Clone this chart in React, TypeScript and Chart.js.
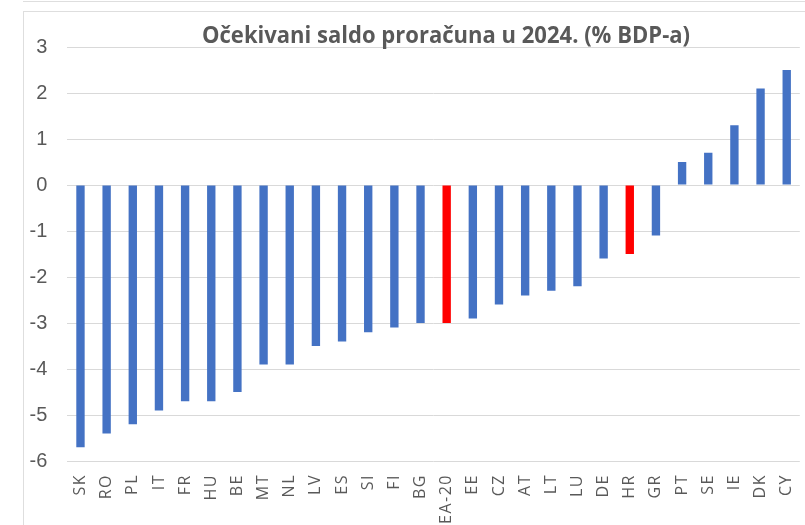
import React, { useEffect, useRef } from "react";
import { Chart, registerables } from "chart.js";

Chart.register(...registerables);

const TITLE = "Očekivani saldo proračuna u 2024. (% BDP-a)";

const countries = [
  "SK", "RO", "PL", "IT", "FR", "HU", "BE", "MT", "NL", "LV", "ES", "SI", "FI", "BG",
  "EA-20", "EE", "CZ", "AT", "LT", "LU", "DE", "HR", "GR", "PT", "SE", "IE", "DK", "CY",
];

const balance2024 = [
  -5.7, -5.4, -5.2, -4.9, -4.7, -4.7, -4.5, -3.9, -3.9, -3.5, -3.4, -3.2, -3.1, -3.0,
  -3.0, -2.9, -2.6, -2.4, -2.3, -2.2, -1.6, -1.5, -1.1, 0.5, 0.7, 1.3, 2.1, 2.5,
];

const highlighted = ["EA-20", "HR"];

const yMin = -6;
const yMax = 3;
const yStep = 1;

const BLUE = "#4472C4";
const RED = "#FF0000";
const TEXT = "#595959";
const GRID = "#d9d9d9";

const titlePlugin = {
  id: "fittedTitle",
  afterLayout(chart: any) {
    const xs = chart.scales.x;
    if (xs && !xs.__spaced) {
      const orig = xs.drawLabels.bind(xs);
      xs.drawLabels = (area: any) => {
        const ctx = chart.ctx as any;
        ctx.save();
        ctx.letterSpacing = "1.5px";
        orig(area);
        ctx.restore();
      };
      xs.__spaced = true;
    }
  },
  afterDraw(chart: any) {
    const ctx = chart.ctx as CanvasRenderingContext2D;
    const area = chart.chartArea;
    ctx.save();
    ctx.font = 'bold 20px "Open Sans"';
    ctx.fillStyle = TEXT;
    ctx.textAlign = "left";
    ctx.textBaseline = "alphabetic";
    const w = ctx.measureText(TITLE).width;
    const asc = ctx.measureText("O").actualBoundingBoxAscent || 14;
    const targetW = 488;
    const targetCap = 16.5;
    const sx = targetW / w;
    const sy = targetCap / asc;
    const cx = (area.left + area.right) / 2 + 12.4;
    const baseline = area.top - 4;
    ctx.translate(cx - targetW / 2, baseline);
    ctx.scale(sx, sy);
    ctx.fillText(TITLE, 0, 0);
    ctx.restore();
  },
};

export default function App() {
  const canvasRef = useRef<HTMLCanvasElement | null>(null);

  useEffect(() => {
    const canvas = canvasRef.current;
    if (!canvas) return;
    const chart = new Chart(canvas, {
      type: "bar",
      data: {
        labels: countries,
        datasets: [
          {
            data: balance2024,
            backgroundColor: countries.map((c) => (highlighted.includes(c) ? RED : BLUE)),
            borderWidth: 0,
            barPercentage: 0.32,
            categoryPercentage: 1,
          },
        ],
      },
      options: {
        responsive: false,
        maintainAspectRatio: false,
        animation: false,
        devicePixelRatio: 1,
        layout: { padding: { left: 0, right: 5.2, top: 35, bottom: 0 } },
        plugins: {
          legend: { display: false },
          title: { display: false },
          tooltip: { enabled: false },
        },
        scales: {
          x: {
            grid: { display: false, drawTicks: false, tickLength: 0 },
            border: { display: false },
            ticks: {
              autoSkip: false,
              minRotation: 90,
              maxRotation: 90,
              padding: 13,
              color: TEXT,
              font: { family: '"Open Sans"', size: 16 },
            },
            afterFit(scale: any) {
              scale.height = 64;
              scale.paddingLeft = 0;
              scale.paddingRight = 0;
            },
          },
          y: {
            min: yMin,
            max: yMax,
            grid: { color: GRID, lineWidth: 1, drawTicks: false, tickLength: 0 },
            border: { display: false },
            ticks: {
              stepSize: yStep,
              padding: 20,
              color: TEXT,
              font: { family: '"Liberation Sans Narrow", "Liberation Sans"', size: 20 },
            },
            afterFit(scale: any) {
              scale.width = 42.4;
              scale.paddingTop = 0;
              scale.paddingBottom = 0;
            },
          },
        },
      },
      plugins: [titlePlugin],
    });
    return () => chart.destroy();
  }, []);

  return (
    <div
      style={{
        position: "fixed",
        left: 0,
        top: 0,
        width: 805,
        height: 525,
        overflow: "hidden",
        background: "#ffffff",
      }}
    >
      <div style={{ position: "absolute", left: 23, top: 1, right: 0, height: 1, background: "#dedede" }} />
      <div style={{ position: "absolute", left: 23, top: 11, right: 0, height: 1, background: "#dedede" }} />
      <div style={{ position: "absolute", left: 23, top: 11, width: 1, bottom: 0, background: "#dedede" }} />
      <canvas
        ref={canvasRef}
        width={780}
        height={513}
        style={{ position: "absolute", left: 25, top: 12, width: 780, height: 513 }}
      />
    </div>
  );
}
